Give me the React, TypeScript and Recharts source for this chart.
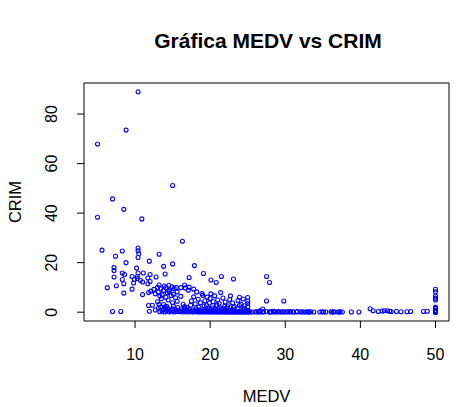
import React from "react";
import { ScatterChart, Scatter, XAxis, YAxis, ReferenceArea } from "recharts";

// [MEDV, CRIM] pairs, grouped by region of the plot
const extremeCrim = [
  [10.4, 88.98], [8.8, 73.53], [5.0, 67.92], [15.0, 51.14], [7.0, 45.75],
  [8.5, 41.53], [5.0, 38.35], [10.9, 37.66],
];

const highCrim = [
  [16.3, 28.66], [5.6, 25.05], [10.4, 25.94], [10.4, 24.8], [10.5, 23.6], [10.4, 22.05],
  [8.3, 24.7], [7.4, 22.6], [13.2, 23.4], [11.9, 20.6], [8.8, 20.0], [15.0, 19.5],
  [13.8, 18.5], [17.9, 18.8], [7.2, 18.0], [7.2, 16.8], [7.2, 14.2], [10.2, 17.8],
  [8.3, 15.8], [8.6, 15.2], [8.3, 13.2], [8.5, 11.5], [10.4, 15.8], [11.1, 15.8],
  [12.0, 15.2], [14.0, 15.4], [9.6, 14.4], [10.3, 14.4], [11.7, 13.8], [12.8, 14.2],
  [9.9, 13.2], [10.3, 13.6], [9.8, 11.8], [10.7, 12.9], [11.0, 12.2], [11.7, 11.5],
  [12.0, 12.4], [19.1, 15.6], [17.2, 14.0], [21.5, 14.4], [20.1, 13.0], [20.8, 12.0],
  [23.1, 13.4], [27.5, 14.4], [27.9, 12.0], [13.2, 11.0], [13.9, 10.6], [14.5, 10.9],
];

const midCluster = [
  [6.3, 9.9], [7.5, 10.7], [8.5, 7.7], [9.6, 9.3], [11.0, 7.1], [11.8, 7.9],
  [12.1, 8.5], [12.5, 9.2], [12.7, 7.4], [13.0, 10.0], [13.1, 8.2], [13.3, 6.5],
  [13.4, 9.5], [13.5, 5.4], [13.6, 7.0], [13.8, 8.8], [14.1, 6.0], [14.1, 9.9],
  [14.3, 7.8], [14.4, 4.9], [14.5, 8.4], [14.6, 9.0], [14.8, 6.7], [14.9, 10.2],
  [15.0, 3.8], [15.1, 7.3], [15.2, 9.6], [15.4, 5.8], [15.6, 8.2], [15.6, 4.4],
  [16.1, 9.9], [16.1, 6.4], [16.4, 3.2], [16.7, 9.8], [17.1, 8.9], [17.2, 10.1],
  [17.8, 9.3], [18.2, 8.2], [12.3, 2.8], [13.0, 4.2], [13.8, 3.1], [14.2, 2.4],
  [11.8, 2.7], [11.9, 0.4], [7.0, 0.3], [8.1, 0.3], [15.5, 9.9], [16.6, 11.0],
];

const upperCluster = [
  [17.5, 4.5], [17.8, 6.2], [18.4, 5.2], [18.7, 3.8], [19.0, 6.8], [19.3, 4.6],
  [19.5, 2.9], [19.6, 6.1], [19.9, 3.7], [20.0, 5.5], [20.1, 7.4], [20.4, 4.2],
  [20.6, 6.6], [20.8, 2.6], [21.0, 4.9], [21.2, 3.5], [21.4, 7.9], [21.7, 5.7],
  [21.9, 2.3], [22.0, 4.1], [22.4, 3.0], [22.6, 5.1], [23.0, 3.7], [23.2, 2.4],
  [23.7, 4.7], [23.9, 6.0], [24.1, 3.2], [24.4, 5.3], [24.6, 2.6], [25.0, 5.9],
  [25.0, 4.4], [25.0, 3.5], [25.0, 2.2], [22.7, 6.6], [18.9, 7.5], [16.6, 2.3],
  [17.4, 2.8], [18.5, 2.0], [19.2, 2.5], [20.2, 1.8], [20.9, 2.9], [21.7, 1.7],
  [22.3, 2.2], [23.1, 1.9], [23.9, 2.7], [24.5, 1.6], [18.0, 3.3], [19.9, 1.5],
  [21.2, 1.4], [16.9, 1.9], [15.1, 2.5], [14.0, 2.2], [13.2, 3.2], [27.0, 1.3],
  [27.5, 4.5], [29.8, 4.5],
];

const lowBand = [
  [12.7, 0.9], [13.1, 1.6], [13.3, 0.2], [13.4, 2.1], [13.6, 0.6], [13.8, 1.2],
  [13.9, 0.1], [14.1, 0.8], [14.3, 1.7], [14.4, 0.3], [14.5, 1.0], [14.6, 0.2],
  [14.8, 0.7], [15.0, 1.4], [15.2, 0.1], [15.3, 0.5], [15.4, 1.1], [15.6, 0.3],
  [15.7, 1.9], [15.9, 0.6], [16.0, 0.2], [16.1, 1.3], [16.2, 0.4], [16.4, 0.8],
  [16.5, 0.1], [16.6, 1.5], [16.8, 0.3], [17.0, 0.7], [17.1, 0.1], [17.2, 1.2],
  [17.4, 0.4], [17.5, 0.2], [17.7, 0.9], [17.8, 0.1], [18.0, 0.5], [18.1, 1.4],
  [18.2, 0.2], [18.3, 0.8], [18.4, 0.1], [18.5, 0.4], [18.6, 1.0], [18.7, 0.2],
  [18.8, 0.6], [18.9, 0.1], [19.0, 0.3], [19.1, 1.1], [19.2, 0.2], [19.3, 0.7],
  [19.4, 0.1], [19.5, 0.4], [19.6, 0.9], [19.7, 0.2], [19.8, 0.1], [19.9, 0.5],
  [20.0, 0.2], [20.1, 1.2], [20.2, 0.1], [20.3, 0.3], [20.4, 0.7], [20.5, 0.1],
  [20.6, 0.4], [20.7, 0.2], [20.8, 0.9], [20.9, 0.1], [21.0, 0.3], [21.1, 0.6],
  [21.2, 0.1], [21.4, 0.2], [21.5, 1.3], [21.6, 0.1], [21.7, 0.4], [21.8, 0.1],
  [21.9, 0.8], [22.0, 0.2], [22.1, 0.1], [22.2, 0.5], [22.3, 0.1], [22.4, 0.3],
  [22.5, 1.0], [22.6, 0.1], [22.7, 0.2], [22.8, 0.6], [22.9, 0.1], [23.0, 0.3],
  [23.1, 0.1], [23.2, 0.8], [23.3, 0.2], [23.4, 0.1], [23.5, 0.4], [23.6, 0.1],
  [23.7, 1.5], [23.8, 0.2], [23.9, 0.1], [24.0, 0.5], [24.1, 0.1], [24.2, 0.3],
  [24.3, 0.1], [24.4, 0.9], [24.5, 0.2], [24.6, 0.1], [24.7, 0.4], [24.8, 0.1],
  [25.0, 0.2], [25.0, 0.7], [25.1, 0.1], [25.2, 0.3], [25.3, 0.1], [25.6, 0.1],
  [26.0, 0.2], [26.2, 0.1], [26.4, 0.3], [26.5, 0.1], [26.6, 0.6], [26.7, 0.1],
  [27.0, 0.2], [27.1, 0.1], [27.5, 0.3], [27.9, 0.1], [28.0, 0.2], [28.1, 0.1],
  [28.4, 0.4], [28.5, 0.1], [28.7, 0.2], [29.0, 0.1], [29.1, 0.3], [29.4, 0.1],
  [29.6, 0.2], [29.8, 0.1], [30.1, 0.2], [30.3, 0.1], [30.5, 0.3], [30.7, 0.1],
  [31.0, 0.2], [31.1, 0.1], [31.5, 0.1], [31.6, 0.3], [32.0, 0.1], [32.2, 0.2],
  [32.4, 0.1], [32.7, 0.1], [32.9, 0.2], [33.1, 0.1], [33.2, 0.1], [33.4, 0.2],
  [33.8, 0.1], [34.6, 0.1], [34.9, 0.2], [35.1, 0.1], [35.4, 0.1], [36.1, 0.2],
  [36.2, 0.1], [36.4, 0.1], [36.5, 0.2], [37.0, 0.1], [37.2, 0.1], [37.3, 0.2],
  [37.6, 0.1], [38.8, 0.1], [39.8, 0.1],
];

const richTracts = [
  [41.3, 1.4], [41.7, 0.6], [42.4, 0.3], [42.9, 0.5], [43.2, 0.6], [43.6, 0.6],
  [43.9, 0.4], [44.1, 0.3], [44.8, 0.3], [45.4, 0.2], [46.2, 0.2], [46.7, 0.3],
  [48.4, 0.3], [48.9, 0.4],
];

const medvCapped = [
  [50, 9.23], [50, 8.27], [50, 6.54], [50, 5.67], [50, 4.9], [50, 2.01],
  [50, 1.83], [50, 1.52], [50, 1.46], [50, 0.61], [50, 0.58], [50, 0.53],
  [50, 0.06], [50, 0.01], [50, 0.08], [50, 0.02],
];

const xTicks = [10, 20, 30, 40, 50];
const yTicks = [0, 20, 40, 60, 80];

const points = [
  ...extremeCrim, ...highCrim, ...midCluster, ...upperCluster,
  ...lowBand, ...richTracts, ...medvCapped,
].map(([medv, crim]) => ({ medv, crim }));

const FONT = '"Liberation Sans", Arial, Helvetica, sans-serif';
const X_DOMAIN = [3.2, 51.8];
const Y_DOMAIN = [-3.56, 92.54];

function XTick(props: any) {
  return (
    <text x={props.x} y={360} textAnchor="middle" fontFamily={FONT} fontSize={16} fill="#000">
      {props.payload.value}
    </text>
  );
}

function YTick(props: any) {
  const x = 57;
  return (
    <text
      x={x}
      y={props.y}
      transform={`rotate(-90, ${x}, ${props.y})`}
      textAnchor="middle"
      fontFamily={FONT}
      fontSize={16}
      fill="#000"
    >
      {props.payload.value}
    </text>
  );
}

function XTitle(props: any) {
  const vb = props.viewBox || { x: 84, y: 321, width: 365 };
  return (
    <text x={vb.x + vb.width / 2} y={vb.y + 81} textAnchor="middle" fontFamily={FONT} fontSize={16.5} fill="#000">
      MEDV
    </text>
  );
}

function YTitle(props: any) {
  const vb = props.viewBox || { y: 83, height: 238 };
  const cy = vb.y + vb.height / 2;
  return (
    <text x={20.5} y={cy} transform={`rotate(-90, 20.5, ${cy})`} textAnchor="middle" fontFamily={FONT} fontSize={16.5} fill="#000">
      CRIM
    </text>
  );
}

const ring = (p: any) => (
  <circle cx={p.cx} cy={p.cy} r={2} fill="none" stroke="#0000ff" strokeWidth={1.1} />
);

export default function App() {
  return (
    <div style={{ position: "absolute", left: 0, top: 0, width: 467, height: 407, background: "#fff" }}>
      <div
        style={{
          position: "absolute",
          top: 29,
          left: 0,
          width: 536,
          textAlign: "center",
          fontFamily: FONT,
          fontWeight: "bold",
          fontSize: 21,
          lineHeight: "24px",
          color: "#000",
        }}
      >
        Gráfica MEDV vs CRIM
      </div>
      <ScatterChart width={467} height={407} margin={{ top: 83, right: 18, bottom: 0, left: 0 }}>
        <XAxis
          type="number"
          dataKey="medv"
          domain={X_DOMAIN}
          ticks={xTicks}
          height={86}
          axisLine={false}
          tickSize={7}
          tickLine={{ stroke: "#000" }}
          tick={<XTick />}
          label={<XTitle />}
          allowDataOverflow
        />
        <YAxis
          type="number"
          dataKey="crim"
          domain={Y_DOMAIN}
          ticks={yTicks}
          width={84}
          axisLine={false}
          tickSize={7}
          tickLine={{ stroke: "#000" }}
          tick={<YTick />}
          label={<YTitle />}
          allowDataOverflow
        />
        <ReferenceArea
          x1={X_DOMAIN[0]}
          x2={X_DOMAIN[1]}
          y1={Y_DOMAIN[0]}
          y2={Y_DOMAIN[1]}
          fill="none"
          stroke="#000"
          strokeWidth={1}
          ifOverflow="visible"
        />
        <Scatter data={points} shape={ring} isAnimationActive={false} />
      </ScatterChart>
    </div>
  );
}
